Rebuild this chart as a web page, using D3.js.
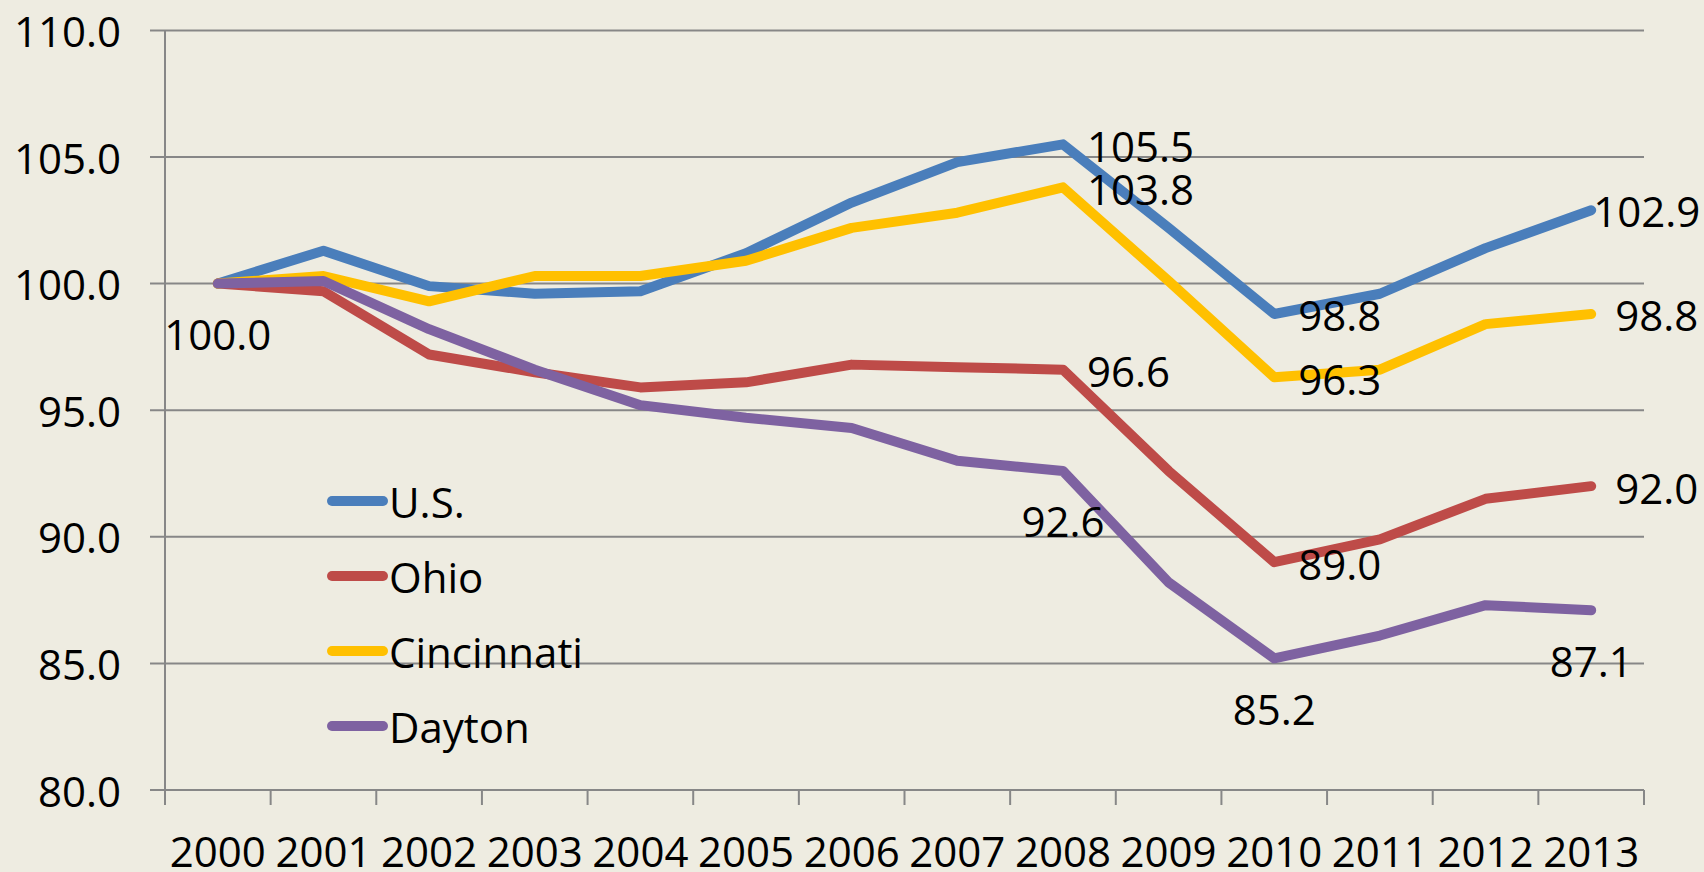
<!DOCTYPE html>
<html>
<head>
<meta charset="utf-8">
<script src="https://cdn.jsdelivr.net/npm/d3@7"></script>
<style>
  html, body { margin: 0; padding: 0; background: #EEECE1; }
  svg { display: block; }
  text { font-family: "Open Sans", "Noto Sans", sans-serif; fill: #000; }
</style>
</head>
<body>
<svg id="chart" width="1704" height="872"></svg>
<script>
// ---- data ----
const years = ["2000","2001","2002","2003","2004","2005","2006","2007","2008","2009","2010","2011","2012","2013"];
const seriesNames = ["U.S.", "Ohio", "Cincinnati", "Dayton"];
const usValues         = [100.0, 101.3, 99.9, 99.6, 99.7, 101.2, 103.2, 104.8, 105.5, 102.2, 98.8, 99.6, 101.4, 102.9];
const ohioValues       = [100.0, 99.7, 97.2, 96.5, 95.9, 96.1, 96.8, 96.7, 96.6, 92.6, 89.0, 89.9, 91.5, 92.0];
const cincinnatiValues = [100.0, 100.3, 99.3, 100.3, 100.3, 100.9, 102.2, 102.8, 103.8, 100.1, 96.3, 96.6, 98.4, 98.8];
const daytonValues     = [100.0, 100.1, 98.2, 96.6, 95.2, 94.7, 94.3, 93.0, 92.6, 88.2, 85.2, 86.1, 87.3, 87.1];
const yTicks = [80, 85, 90, 95, 100, 105, 110];

// which points carry a data label (series index, year index)
const labelledPoints = [
  [3, 0], [0, 8], [2, 8], [1, 8], [3, 8],
  [0, 10], [2, 10], [1, 10], [3, 10],
  [0, 13], [2, 13], [1, 13], [3, 13]
];

// ---- styles / layout ----
const colors = ["#4A7EBB", "#BE4B48", "#FFC000", "#7E62A1"];
const W = 1704, H = 872;
const plot = { left: 165, right: 1644, top: 30.4, bottom: 790 };
const fontSize = 42;
const labelPlacement = {
  "3-0": "below", "0-8": "right", "2-8": "right", "1-8": "right", "3-8": "below",
  "0-10": "right", "2-10": "right", "1-10": "right", "3-10": "below",
  "0-13": "rightTight", "2-13": "right", "1-13": "right", "3-13": "below"
};

const series = [usValues, ohioValues, cincinnatiValues, daytonValues];

const svg = d3.select("#chart");
svg.append("rect").attr("width", W).attr("height", H).attr("fill", "#EEECE1");

const x = d3.scaleBand().domain(years).range([plot.left, plot.right]).padding(0);
const y = d3.scaleLinear().domain([80, 110]).range([plot.bottom, plot.top]);
const cx = d => x(d) + x.bandwidth() / 2;

// gridlines
const gridColor = "#878787";
svg.append("g").selectAll("line").data(yTicks).join("line")
  .attr("x1", plot.left - 15).attr("x2", plot.right)
  .attr("y1", d => y(d)).attr("y2", d => y(d))
  .attr("stroke", gridColor).attr("stroke-width", 2);

// y axis line
svg.append("line")
  .attr("x1", plot.left).attr("x2", plot.left)
  .attr("y1", plot.top).attr("y2", plot.bottom + 15)
  .attr("stroke", gridColor).attr("stroke-width", 2);

// x axis ticks
const xTickPos = years.map(d => x(d)).concat([plot.right]);
svg.append("g").selectAll("line").data(xTickPos).join("line")
  .attr("x1", d => d).attr("x2", d => d)
  .attr("y1", plot.bottom).attr("y2", plot.bottom + 15)
  .attr("stroke", gridColor).attr("stroke-width", 2);

// y tick labels
svg.append("g").selectAll("text").data(yTicks).join("text")
  .attr("x", 121).attr("y", d => y(d))
  .attr("text-anchor", "end").attr("dominant-baseline", "central")
  .attr("font-size", fontSize)
  .text(d => d3.format(".1f")(d));

// x tick labels
svg.append("g").selectAll("text").data(years).join("text")
  .attr("x", d => cx(d)).attr("y", 867)
  .attr("text-anchor", "middle")
  .attr("font-size", fontSize)
  .text(d => d);

// lines
const line = d3.line().x((d, i) => cx(years[i])).y(d => y(d));
svg.append("g").selectAll("path").data(series).join("path")
  .attr("d", d => line(d))
  .attr("fill", "none")
  .attr("stroke", (d, i) => colors[i])
  .attr("stroke-width", 10)
  .attr("stroke-linejoin", "round")
  .attr("stroke-linecap", "round");

// data labels
const lg = svg.append("g");
labelledPoints.forEach(([s, i]) => {
  const px = cx(years[i]), py = y(series[s][i]);
  const place = labelPlacement[s + "-" + i];
  const t = lg.append("text").attr("font-size", fontSize)
    .attr("dominant-baseline", "central")
    .text(d3.format(".1f")(series[s][i]));
  if (place === "below") {
    t.attr("x", px).attr("y", py + 50).attr("text-anchor", "middle");
  } else if (place === "rightTight") {
    t.attr("x", px + 2).attr("y", py).attr("text-anchor", "start");
  } else {
    t.attr("x", px + 24).attr("y", py + 1).attr("text-anchor", "start");
  }
});

// legend
const legend = svg.append("g");
const legendY = [501, 576, 651, 726];
seriesNames.forEach((name, i) => {
  legend.append("line")
    .attr("x1", 332).attr("x2", 383)
    .attr("y1", legendY[i]).attr("y2", legendY[i])
    .attr("stroke", colors[i]).attr("stroke-width", 10)
    .attr("stroke-linecap", "round");
  legend.append("text")
    .attr("x", 389).attr("y", legendY[i])
    .attr("dominant-baseline", "central")
    .attr("font-size", fontSize)
    .text(name);
});
</script>
</body>
</html>
